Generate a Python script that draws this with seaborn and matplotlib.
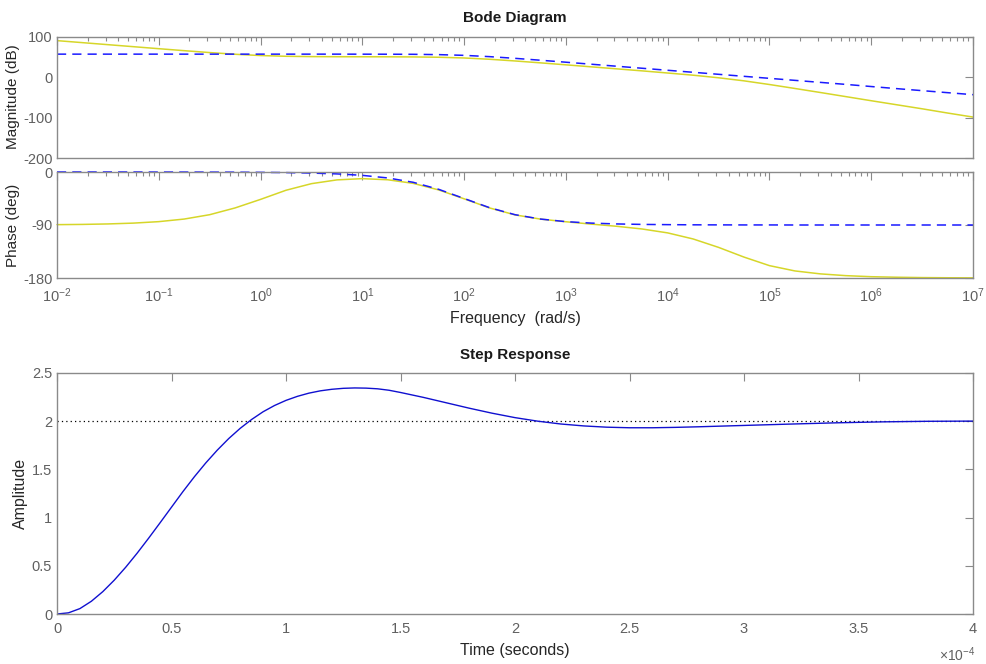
import numpy as np
import pandas as pd
import matplotlib
matplotlib.use("Agg")
import matplotlib.pyplot as plt
import seaborn as sns
from matplotlib.ticker import NullFormatter, FixedLocator, LogFormatterMathtext

# ---------------- data ----------------
freq_exp = [-2, -1.75, -1.5, -1.25, -1, -0.75, -0.5, -0.25, 0, 0.25, 0.5, 0.75,
            1, 1.25, 1.5, 1.75, 2, 2.25, 2.5, 2.75, 3, 3.25, 3.5, 3.75,
            4, 4.25, 4.5, 4.75, 5, 5.25, 5.5, 5.75, 6, 6.25, 6.5, 6.75, 7]

mag_yellow = [91, 86, 81, 76, 71, 66.1, 61.4, 57.2, 54, 52.2, 51.4, 51.1,
              51, 50.9, 50.6, 49.8, 48, 44.8, 40.6, 35.9, 31, 26, 21, 16,
              10.7, 5.3, -1.1, -8.7, -17.8, -27.6, -37.6, -47.8, -58, -68, -78, -88.5, -98.5]
mag_blue = [57.5, 57.5, 57.5, 57.5, 57.5, 57.5, 57.5, 57.5, 57.5, 57.5, 57.5, 57.5,
            57.4, 57.3, 57.1, 56.3, 54.5, 51.3, 47.1, 42.4, 37.5, 32.5, 27.5, 22.5,
            17.5, 12.5, 7.5, 2.5, -2.5, -7.5, -12.5, -17.5, -22.8, -28, -33, -38, -43]

phase_yellow = [-89.4, -89.0, -88.2, -86.8, -84.3, -79.9, -72.5, -61, -46.5, -31, -19.8, -13.4,
                -11.3, -13.2, -19.3, -30.4, -45.5, -61, -72.8, -80, -84.5, -88.5, -92.2, -96.8,
                -103.4, -113.7, -128, -144.5, -159, -168, -173, -176, -177.8, -178.7, -179.3, -179.6, -179.8]
phase_blue = [0, 0, 0, 0, -0.1, -0.1, -0.2, -0.3, -0.6, -1.0, -1.8, -3.2,
              -5.7, -10.1, -17.5, -29.4, -45, -60.6, -72.5, -79.9, -84.3, -86.8, -88.2, -89.0,
              -89.4, -89.7, -89.8, -89.9, -89.9, -90, -90, -90, -90, -90, -90, -90, -90]

step_t = [0, 0.05, 0.1, 0.15, 0.2, 0.25, 0.3, 0.35, 0.4, 0.45, 0.5, 0.55, 0.6, 0.65,
          0.7, 0.75, 0.8, 0.85, 0.9, 0.95, 1.0, 1.05, 1.1, 1.15, 1.2, 1.25, 1.3, 1.35,
          1.4, 1.45, 1.5, 1.6, 1.7, 1.8, 1.9, 2.0, 2.1, 2.2, 2.3, 2.4, 2.5, 2.6,
          2.7, 2.8, 2.9, 3.0, 3.2, 3.4, 3.6, 3.8, 4.0]
step_y = [0, 0.012, 0.056, 0.132, 0.232, 0.351, 0.485, 0.631, 0.786, 0.946, 1.108, 1.270,
          1.424, 1.568, 1.700, 1.820, 1.926, 2.018, 2.098, 2.163, 2.216, 2.258, 2.291, 2.315,
          2.331, 2.341, 2.345, 2.343, 2.336, 2.321, 2.298, 2.247, 2.191, 2.135, 2.083, 2.037,
          2.0, 1.971, 1.951, 1.938, 1.932, 1.932, 1.936, 1.942, 1.949, 1.956, 1.970, 1.983,
          1.993, 1.999, 2.001]
final_value = 2.0

freq_major = [1e-2, 1e-1, 1e0, 1e1, 1e2, 1e3, 1e4, 1e5, 1e6, 1e7]
mag_ticks = [-200, -100, 0, 100]
phase_ticks = [-180, -90, 0]
step_xticks = [0, 0.5, 1, 1.5, 2, 2.5, 3, 3.5, 4]
step_yticks = [0, 0.5, 1, 1.5, 2, 2.5]

# ---------------- style ----------------
sns.set_theme(style="white")
plt.rcParams['font.family'] = ['Liberation Sans', 'DejaVu Sans']
plt.rcParams['mathtext.fontset'] = 'custom'
plt.rcParams['mathtext.rm'] = 'Liberation Sans'
plt.rcParams['mathtext.it'] = 'Liberation Sans:italic'
plt.rcParams['axes.unicode_minus'] = False

W, H = 986, 664
fig = plt.figure(figsize=(W / 100, H / 100), dpi=100)

AX_COL = '#8a8a8a'
TICK_COL = '#606060'
LAB_COL = '#262626'
YEL = '#d6d629'
BLU = '#1a1aff'

freq_minor = [m * d for d in freq_major[:-1] for m in range(2, 10)]


def pos(l, t, r, b):
    return [l / W, 1 - b / H, (r - l) / W, (b - t) / H]


def style_ax(ax):
    for s in ax.spines.values():
        s.set_color(AX_COL)
        s.set_linewidth(1.0)
    ax.tick_params(which='both', direction='in', top=True, right=True,
                   color=AX_COL, labelcolor=TICK_COL, labelsize=10.5)
    ax.tick_params(which='major', length=6, width=0.8)
    ax.tick_params(which='minor', length=3, width=0.8)
    ax.set_xlabel('')
    ax.set_ylabel('')


def log_x(ax, labels):
    ax.set_xscale('log')
    ax.set_xlim(1e-2, 1e7)
    ax.xaxis.set_major_locator(FixedLocator(freq_major))
    ax.xaxis.set_minor_locator(FixedLocator(freq_minor))
    ax.xaxis.set_minor_formatter(NullFormatter())
    if labels:
        ax.xaxis.set_major_formatter(LogFormatterMathtext())
    else:
        ax.xaxis.set_major_formatter(NullFormatter())


f = [10 ** e for e in freq_exp]
df = pd.DataFrame({'f': f, 'mag_y': mag_yellow, 'mag_b': mag_blue,
                   'ph_y': phase_yellow, 'ph_b': phase_blue})

# Magnitude
ax1 = fig.add_axes(pos(57, 37, 973, 158))
sns.lineplot(data=df, x='f', y='mag_y', ax=ax1, color=YEL, lw=1.1, sort=False)
sns.lineplot(data=df, x='f', y='mag_b', ax=ax1, color=BLU, lw=1.1, sort=False,
             linestyle=(0, (6, 4)))
log_x(ax1, False)
ax1.set_ylim(-200, 100)
ax1.yaxis.set_major_locator(FixedLocator(mag_ticks))
style_ax(ax1)
ax1.tick_params(axis='y', pad=3)

# Phase
ax2 = fig.add_axes(pos(57, 172, 973, 278))
sns.lineplot(data=df, x='f', y='ph_y', ax=ax2, color=YEL, lw=1.1, sort=False)
sns.lineplot(data=df, x='f', y='ph_b', ax=ax2, color=BLU, lw=1.1, sort=False,
             linestyle=(0, (6, 4)))
for ln in ax2.get_lines():
    ln.set_clip_on(False)
log_x(ax2, True)
ax2.set_ylim(-180, 0)
ax2.yaxis.set_major_locator(FixedLocator(phase_ticks))
style_ax(ax2)
ax2.tick_params(axis='y', pad=3)
ax2.tick_params(axis='x', pad=6)

# Step response
ax3 = fig.add_axes(pos(57, 373, 973, 614))
sdf = pd.DataFrame({'t': step_t, 'y': step_y})
ax3.axhline(final_value, color='black', lw=0.9, linestyle=(0, (1, 2.5)))
sns.lineplot(data=sdf, x='t', y='y', ax=ax3, color='#1010d0', lw=1.0, sort=False)
ax3.set_xlim(0, 4)
ax3.set_ylim(0, 2.5)
ax3.xaxis.set_major_locator(FixedLocator(step_xticks))
ax3.yaxis.set_major_locator(FixedLocator(step_yticks))
ax3.set_xticklabels([('%g' % v) for v in step_xticks])
ax3.set_yticklabels([('%g' % v) for v in step_yticks])
style_ax(ax3)
ax3.tick_params(axis='x', pad=6)

# Texts
fig.text(515 / W, 1 - 18 / H, 'Bode Diagram', ha='center', va='center',
         fontsize=11, fontweight='bold', color='#1a1a1a')
fig.text(515 / W, 1 - 355 / H, 'Step Response', ha='center', va='center',
         fontsize=11, fontweight='bold', color='#1a1a1a')
fig.text(13 / W, 1 - 97 / H, 'Magnitude (dB)', rotation=90, ha='center', va='center',
         fontsize=11, color=LAB_COL)
fig.text(13 / W, 1 - 225 / H, 'Phase (deg)', rotation=90, ha='center', va='center',
         fontsize=11, color=LAB_COL)
fig.text(515 / W, 1 - 318 / H, 'Frequency  (rad/s)', ha='center', va='center',
         fontsize=11.5, color=LAB_COL)
fig.text(20 / W, 1 - 493 / H, 'Amplitude', rotation=90, ha='center', va='center',
         fontsize=11.5, color=LAB_COL)
fig.text(515 / W, 1 - 651 / H, 'Time (seconds)', ha='center', va='center',
         fontsize=11.5, color=LAB_COL)
fig.text(957 / W, 1 - 655 / H, r'$\times10^{-4}$', ha='center', va='center',
         fontsize=10, color=TICK_COL)

fig.savefig('out.png', dpi=100, facecolor='white')
